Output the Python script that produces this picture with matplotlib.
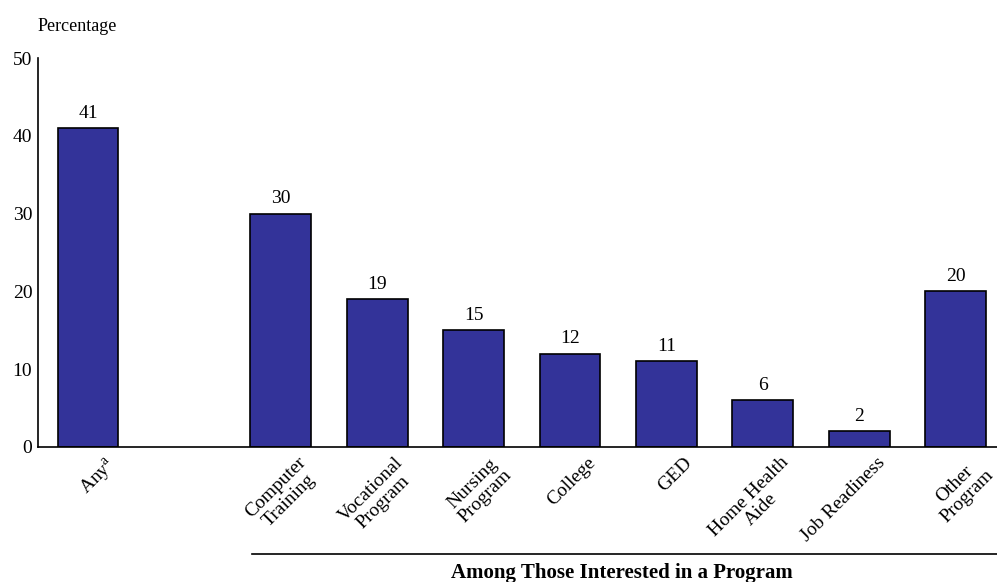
import matplotlib
matplotlib.use("Agg")
from matplotlib import pyplot as plt
from matplotlib.transforms import ScaledTranslation

# Share of respondents interested in each program
categories = ["Any$^{\\mathregular{a}}$", "Computer\nTraining", "Vocational\nProgram",
              "Nursing\nProgram", "College", "GED", "Home Health\nAide",
              "Job Readiness", "Other\nProgram"]
values = [41, 30, 19, 15, 12, 11, 6, 2, 20]
positions = [0, 2, 3, 4, 5, 6, 7, 8, 9]
y_ticks = [0, 10, 20, 30, 40, 50]

bar_colour = '#333399'

plt.rcParams['font.family'] = ['Liberation Serif', 'DejaVu Serif']

fig = plt.figure(figsize=(9.97, 5.82), dpi=100)
ax = fig.add_axes([0.038, 0.232, 0.962, 0.668])

ax.bar(positions, values, width=0.63, color=bar_colour, edgecolor='black', linewidth=1.2)
for p, v in zip(positions, values):
    ax.text(p, v + 0.8, str(v), ha='center', va='bottom', fontsize=14)

ax.set_xlim(-0.52, 9.43)
ax.set_ylim(0, 50)
ax.set_yticks(y_ticks)
ax.set_yticklabels([str(t) for t in y_ticks], fontsize=14)
ax.set_xticks(positions)
ax.set_xticklabels(categories, rotation=45, ha='right', rotation_mode='anchor',
                   fontsize=14, multialignment='center', linespacing=1.05)
ax.tick_params(axis='y', length=0, pad=4)
ax.tick_params(axis='x', length=0, pad=5)

# nudge the slanted labels a little to the right of the bar centres
shift = ScaledTranslation(17 / 100, 0, fig.dpi_scale_trans)
for lbl in ax.get_xticklabels():
    lbl.set_transform(lbl.get_transform() + shift)

for side in ['top', 'right']:
    ax.spines[side].set_visible(False)
ax.spines['left'].set_linewidth(1.2)
ax.spines['bottom'].set_linewidth(1.2)

fig.text(0.038, 0.955, "Percentage", fontsize=13, ha='left', va='center')

# group bracket under the program bars
fig.add_artist(plt.Line2D([252 / 997, 997 / 997], [1 - 554 / 582, 1 - 554 / 582],
                          color='black', linewidth=1.2))
fig.text(622 / 997, 1 - 578 / 582, "Among Those Interested in a Program",
         fontsize=15, fontweight='bold', ha='center', va='baseline')

fig.savefig("out.png", dpi=100)
